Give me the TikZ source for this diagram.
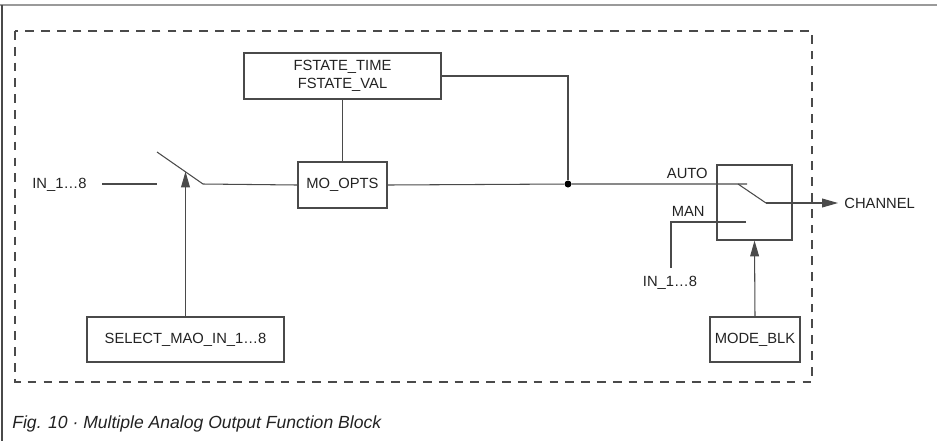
\documentclass[tikz,border=0pt]{standalone}
\usepackage{fontspec}
\setmainfont{Liberation Sans}
\usetikzlibrary{arrows.meta,positioning,calc}
\definecolor{LineGrey}{HTML}{4A4A4A}
\definecolor{FrameGrey}{HTML}{9A9A9A}
\definecolor{TextDark}{HTML}{222222}

\begin{document}
\begin{tikzpicture}[x=0.02cm, y=-0.02cm,
  box/.style={draw=LineGrey, line width=0.6pt, inner sep=0pt,
              font=\fontsize{8.4}{10}\selectfont, align=center, text=TextDark},
  wire/.style={draw=LineGrey, line width=0.6pt},
  arrow/.style={wire, -{Triangle[length=9pt, width=5pt]}},
  sig/.style={font=\fontsize{8.4}{10}\selectfont, text=TextDark, inner sep=0pt},
  junction/.style={circle, fill=black, inner sep=0pt, minimum size=0.14cm},
  blockframe/.style={draw=LineGrey, line width=0.6pt, dash pattern=on 5pt off 4pt}
]
  \useasboundingbox (0,0) rectangle (937,441);

  % page frame and function block outline
  \draw[FrameGrey, line width=1.2pt] (0,5) -- (937,5);
  \draw[LineGrey, line width=0.6pt] (2,5) -- (2,441);
  \draw[blockframe] (15,31) rectangle (812,382);

  % blocks
  \node[box, minimum width=3.94cm, minimum height=0.92cm] (fs) at (342.5,76)
    {FSTATE\_TIME\\FSTATE\_VAL};
  \node[box, minimum width=1.78cm, minimum height=0.92cm] (mo) at (342.5,185) {MO\_OPTS};
  \node[box, minimum width=3.94cm, minimum height=0.90cm] (sel) at (185.5,339.5)
    {SELECT\_MAO\_IN\_1…8};
  \node[box, minimum width=1.5cm, minimum height=1.5cm] (mode) at (754.5,202.5) {};
  \node[box, minimum width=1.8cm, minimum height=0.90cm] (mb) at (755,339.5) {MODE\_BLK};

  % input selector switch
  \node[sig, anchor=west] (inL) at (32,185) {IN\_1…8};
  \coordinate (inLend) at (102,184);
  \coordinate (lev1) at (157,152);
  \coordinate (swL) at (157,184);
  \coordinate (piv1) at (203,184);
  \coordinate (tap1) at (185.5,171.5);
  \draw[wire] (inLend) -- (swL);
  \draw[wire] (lev1) -- (piv1) -- (mo.west);
  \draw[arrow] (sel.north) -- (tap1);

  % fault state path
  \node[junction] (dot) at (568,184) {};
  \draw[wire] (fs.south) -- (mo.north);
  \draw[wire] (fs.east) -| (dot);
  \coordinate (autoEnd) at (747,184);
  \draw[wire] (mo.east) -- (dot) -- (autoEnd);

  % mode switch
  \node[sig, anchor=east] (auto) at (708,173) {AUTO};
  \node[sig, anchor=east] (man) at (705,211) {MAN};
  \node[sig] (inR) at (670,283) {IN\_1…8};
  \coordinate (lev2) at (738,184);
  \coordinate (piv2) at (766,203);
  \coordinate (manEnd) at (746,222);
  \coordinate (manIn) at (671,268);
  \coordinate (outTip) at (838,203);
  \draw[wire] (lev2) -- (piv2);
  \draw[arrow] (piv2) -- (outTip);
  \draw[wire] (manEnd) -| (manIn);
  \draw[arrow] (mb.north) -- (mode.south);
  \node[sig, anchor=west] (chan) at (844,203) {CHANNEL};

  % caption
  \node[anchor=base west, inner sep=0pt, text=TextDark,
        font=\fontsize{10}{12}\selectfont\itshape] (cap) at (12,428)
    {Fig. 10 · Multiple Analog Output Function Block};
\end{tikzpicture}
\end{document}
